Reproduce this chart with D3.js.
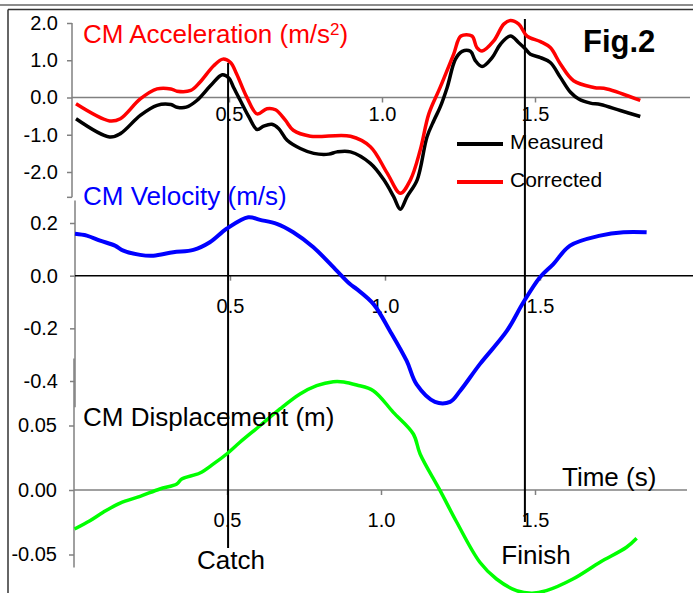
<!DOCTYPE html>
<html>
<head>
    <meta charset="utf-8">
    <title>Fig.2 CM Acceleration, Velocity and Displacement</title>
    <script src="https://cdnjs.cloudflare.com/ajax/libs/d3/7.8.5/d3.min.js"></script>
    <style>
        body {
            margin: 0;
            background-color: white;
        }
        svg text {
            font-family: "Liberation Sans", Arial, sans-serif;
        }
        .tick text {
            font-size: 20px;
            fill: black;
        }
    </style>
</head>
<body>
    <div id="chart"></div>

    <script>
        // Acceleration (m/s2) - measured and corrected
        const accTimeM = [0.00, 0.11, 0.145, 0.21, 0.265, 0.31, 0.33, 0.36, 0.395, 0.44, 0.478, 0.50, 0.515, 0.537,
            0.565, 0.592, 0.613, 0.64, 0.662, 0.69, 0.733, 0.777, 0.826, 0.853, 0.897, 0.962, 1.006, 1.038, 1.06,
            1.082, 1.115, 1.147, 1.17, 1.19, 1.213, 1.24, 1.262, 1.289, 1.305, 1.327, 1.36, 1.387, 1.42, 1.447,
            1.469, 1.485, 1.518, 1.55, 1.583, 1.616, 1.643, 1.681, 1.714, 1.779, 1.844];
        const accMeasured = [-0.57, -1.06, -0.97, -0.48, -0.21, -0.19, -0.26, -0.26, -0.08, 0.32, 0.61, 0.52, 0.27, -0.08,
            -0.52, -0.86, -0.77, -0.72, -0.83, -1.15, -1.37, -1.50, -1.52, -1.46, -1.46, -1.77, -2.21, -2.66, -3.0,
            -2.66, -2.21, -1.06, -0.61, -0.26, 0.27, 1.03, 1.24, 1.24, 0.99, 0.83, 1.07, 1.43, 1.65, 1.47,
            1.30, 1.16, 1.07, 0.94, 0.54, 0.14, -0.04, -0.15, -0.19, -0.35, -0.51];

        const accTimeC = [0.00, 0.11, 0.145, 0.21, 0.265, 0.31, 0.33, 0.375, 0.405, 0.45, 0.48, 0.505, 0.525, 0.558,
            0.592, 0.624, 0.652, 0.684, 0.71, 0.766, 0.897, 0.962, 1.017, 1.06, 1.093, 1.125, 1.153, 1.19, 1.234,
            1.258, 1.294, 1.31, 1.327, 1.365, 1.398, 1.42, 1.447, 1.474, 1.518, 1.55, 1.583, 1.626, 1.692, 1.735, 1.844];
        const accCorrected = [-0.17, -0.63, -0.57, -0.04, 0.23, 0.23, 0.17, 0.19, 0.41, 0.85, 1.03, 0.94, 0.63, 0.01,
            -0.44, -0.30, -0.33, -0.61, -0.88, -1.04, -1.04, -1.32, -2.03, -2.57, -2.21, -1.41, -0.44, 0.27, 1.16,
            1.65, 1.65, 1.34, 1.25, 1.52, 1.97, 2.07, 1.97, 1.65, 1.50, 1.34, 0.90, 0.45, 0.27, 0.23, -0.08];

        // Velocity (m/s)
        const velTime = [0.00, 0.038, 0.081, 0.129, 0.156, 0.21, 0.253, 0.317, 0.382, 0.435, 0.489, 0.559, 0.597,
            0.651, 0.704, 0.769, 0.844, 0.887, 0.909, 0.963, 1.016, 1.07, 1.102, 1.161, 1.21, 1.242, 1.306, 1.393,
            1.446, 1.50, 1.543, 1.597, 1.694, 1.769, 1.844];
        const velocity = [0.159, 0.152, 0.133, 0.114, 0.095, 0.079, 0.076, 0.089, 0.098, 0.127, 0.178, 0.222, 0.212,
            0.197, 0.165, 0.108, 0.019, -0.032, -0.051, -0.108, -0.21, -0.324, -0.413, -0.479, -0.479, -0.438, -0.336, -0.21,
            -0.102, -0.006, 0.044, 0.114, 0.152, 0.165, 0.165];

        // Displacement (m)
        const dispTime = [0.005, 0.055, 0.098, 0.153, 0.218, 0.282, 0.337, 0.353, 0.412, 0.456, 0.499, 0.542, 0.607,
            0.672, 0.737, 0.791, 0.845, 0.879, 0.921, 0.975, 1.04, 1.105, 1.127, 1.192, 1.246, 1.321, 1.375, 1.44,
            1.49, 1.537, 1.623, 1.711, 1.797, 1.83];
        const displacement = [-0.0302, -0.0238, -0.0173, -0.0101, -0.0049, 0.0008, 0.0047, 0.0085, 0.0132, 0.0202,
            0.0279, 0.037, 0.0498, 0.0628, 0.0744, 0.0809, 0.084, 0.0838, 0.0814, 0.077, 0.0602, 0.0434, 0.0279,
            -0.0005, -0.025, -0.056, -0.069, -0.078, -0.080, -0.078, -0.069, -0.056, -0.0444, -0.0374];

        // Tick labels
        const accTicks = [2, 1, 0, -1, -2];
        const velTicks = [0.2, 0, -0.2, -0.4];
        const dispTicks = [0.05, 0, -0.05];
        const timeTicks = [0.5, 1.0, 1.5];

        // Stroke events
        const eventNames = ["Catch", "Finish"];
        const eventTimes = [0.497, 1.467];

        const width = 693;
        const height = 593;

        // plain hyphen for negatives, like the original figure
        const fmt = digits => d => (d < 0 ? "-" : "") + Math.abs(d).toFixed(digits);

        const svg = d3.select("#chart")
            .append("svg")
            .attr("width", width)
            .attr("height", height);

        svg.append("rect").attr("width", width).attr("height", height).attr("fill", "white");

        // Outer frame
        svg.append("line").attr("x1", 0).attr("x2", width).attr("y1", 5).attr("y2", 5)
            .attr("stroke", "#666").attr("stroke-width", 1.5);
        svg.append("line").attr("x1", 8).attr("x2", width).attr("y1", 9.5).attr("y2", 9.5)
            .attr("stroke", "#333").attr("stroke-width", 1.5);
        svg.append("line").attr("x1", 8).attr("x2", 8).attr("y1", 9.5).attr("y2", height)
            .attr("stroke", "#333").attr("stroke-width", 1.5);

        // Scales, one set per panel
        const xAcc = d3.scaleLinear().domain([0, 1.5]).range([76, 535]);
        const yAcc = d3.scaleLinear().domain([-2, 2]).range([172, 23]);
        const xVel = d3.scaleLinear().domain([0, 1.5]).range([75, 540]);
        const yVel = d3.scaleLinear().domain([-0.4, 0.2]).range([381, 223]);
        const xDisp = d3.scaleLinear().domain([0, 1.5]).range([73, 535]);
        const yDisp = d3.scaleLinear().domain([-0.05, 0.05]).range([554.5, 425.5]);

        function drawPanel(opt) {
            const g = svg.append("g");

            // y axis
            const ya = g.append("g")
                .attr("transform", `translate(${opt.axisX},0)`)
                .call(d3.axisLeft(opt.y).tickValues(opt.yTicks)
                    .tickSize(5).tickPadding(opt.yPad)
                    .tickFormat(opt.yFormat));
            ya.select(".domain").remove();
            ya.selectAll(".tick line").attr("stroke", "#808080").attr("stroke-width", 1.5);
            g.append("line")
                .attr("x1", opt.axisX).attr("x2", opt.axisX)
                .attr("y1", opt.y(opt.yTop)).attr("y2", opt.y(opt.yBottom))
                .attr("stroke", "#808080").attr("stroke-width", 1.5);
            if (opt.extraTicks) {
                opt.extraTicks.forEach(v => {
                    g.append("line")
                        .attr("x1", opt.axisX - 5).attr("x2", opt.axisX)
                        .attr("y1", opt.y(v)).attr("y2", opt.y(v))
                        .attr("stroke", "#808080").attr("stroke-width", 1.5);
                });
            }

            // x axis through zero
            const y0 = opt.y(0);
            const xa = g.append("g")
                .attr("transform", `translate(0,${y0})`)
                .call(d3.axisBottom(opt.x).tickValues(timeTicks)
                    .tickSize(5).tickPadding(opt.xPad)
                    .tickFormat(fmt(1)));
            xa.select(".domain").remove();
            xa.selectAll(".tick line").attr("stroke", "#808080").attr("stroke-width", 1.5);
            g.append("line")
                .attr("x1", opt.axisX).attr("x2", opt.xEnd)
                .attr("y1", y0).attr("y2", y0)
                .attr("stroke", opt.xColor).attr("stroke-width", 1.5);

            return g;
        }

        drawPanel({ x: xAcc, y: yAcc, axisX: 72, yTicks: accTicks, yPad: 9, yFormat: fmt(1),
            yTop: 2, yBottom: -2.68, extraTicks: [-2.68], xPad: 4.5, xEnd: 690, xColor: "#808080" });
        drawPanel({ x: xVel, y: yVel, axisX: 75, yTicks: velTicks, yPad: 12, yFormat: fmt(1),
            yTop: 0.285, yBottom: -0.5, xPad: 18, xEnd: width, xColor: "black" });
        drawPanel({ x: xDisp, y: yDisp, axisX: 74, yTicks: dispTicks, yPad: 12, yFormat: fmt(2),
            yTop: 0.102, yBottom: -0.06, xPad: 18, xEnd: 687, xColor: "#808080" });

        // Catch / Finish markers
        const eventTop = [63, 19];
        const eventBottom = [548, 522];
        eventNames.forEach((name, i) => {
            const ex = xAcc(eventTimes[i]);
            svg.append("line")
                .attr("x1", ex).attr("x2", ex)
                .attr("y1", eventTop[i]).attr("y2", eventBottom[i])
                .attr("stroke", "black").attr("stroke-width", 2);
        });
        svg.append("text").attr("x", 231).attr("y", 569).attr("text-anchor", "middle")
            .attr("font-size", 26).text(eventNames[0]);
        svg.append("text").attr("x", 536).attr("y", 564).attr("text-anchor", "middle")
            .attr("font-size", 26).text(eventNames[1]);

        // Curves
        const lineAcc = d3.line().curve(d3.curveCatmullRom)
            .x(d => xAcc(d[0])).y(d => yAcc(d[1]));
        svg.append("path")
            .datum(d3.zip(accTimeM, accMeasured))
            .attr("fill", "none").attr("stroke", "black").attr("stroke-width", 3.5)
            .attr("stroke-linejoin", "round")
            .attr("d", lineAcc);
        svg.append("path")
            .datum(d3.zip(accTimeC, accCorrected))
            .attr("fill", "none").attr("stroke", "#ff0000").attr("stroke-width", 3.5)
            .attr("stroke-linejoin", "round")
            .attr("d", lineAcc);

        svg.append("path")
            .datum(d3.zip(velTime, velocity))
            .attr("fill", "none").attr("stroke", "#0000ff").attr("stroke-width", 4)
            .attr("stroke-linejoin", "round")
            .attr("d", d3.line().curve(d3.curveCatmullRom).x(d => xVel(d[0])).y(d => yVel(d[1])));

        svg.append("path")
            .datum(d3.zip(dispTime, displacement))
            .attr("fill", "none").attr("stroke", "#00ff00").attr("stroke-width", 3.5)
            .attr("stroke-linejoin", "round")
            .attr("d", d3.line().curve(d3.curveCatmullRom).x(d => xDisp(d[0])).y(d => yDisp(d[1])));

        // Titles
        const accTitle = svg.append("text").attr("x", 83).attr("y", 43)
            .attr("font-size", 26).attr("fill", "#ff0000");
        accTitle.append("tspan").text("CM Acceleration (m/s");
        accTitle.append("tspan").text("2").attr("font-size", 17).attr("dy", -8);
        accTitle.append("tspan").text(")").attr("dy", 8);

        svg.append("text").attr("x", 83).attr("y", 205)
            .attr("font-size", 26).attr("fill", "#0000ff").text("CM Velocity (m/s)");
        svg.append("text").attr("x", 83).attr("y", 426)
            .attr("font-size", 26).attr("fill", "black").text("CM Displacement (m)");
        svg.append("text").attr("x", 562).attr("y", 486)
            .attr("font-size", 26).attr("fill", "black").text("Time (s)");
        svg.append("text").attr("x", 583).attr("y", 52)
            .attr("font-size", 31).attr("font-weight", "bold").text("Fig.2");

        // Legend
        const legendNames = ["Measured", "Corrected"];
        const legendColors = ["black", "#ff0000"];
        const legendY = [144, 182];
        legendNames.forEach((name, i) => {
            svg.append("line")
                .attr("x1", 457).attr("x2", 503)
                .attr("y1", legendY[i]).attr("y2", legendY[i])
                .attr("stroke", legendColors[i]).attr("stroke-width", 4);
            svg.append("text")
                .attr("x", 510).attr("y", legendY[i] + 4.5)
                .attr("font-size", 21).text(name);
        });
    </script>
</body>
</html>
